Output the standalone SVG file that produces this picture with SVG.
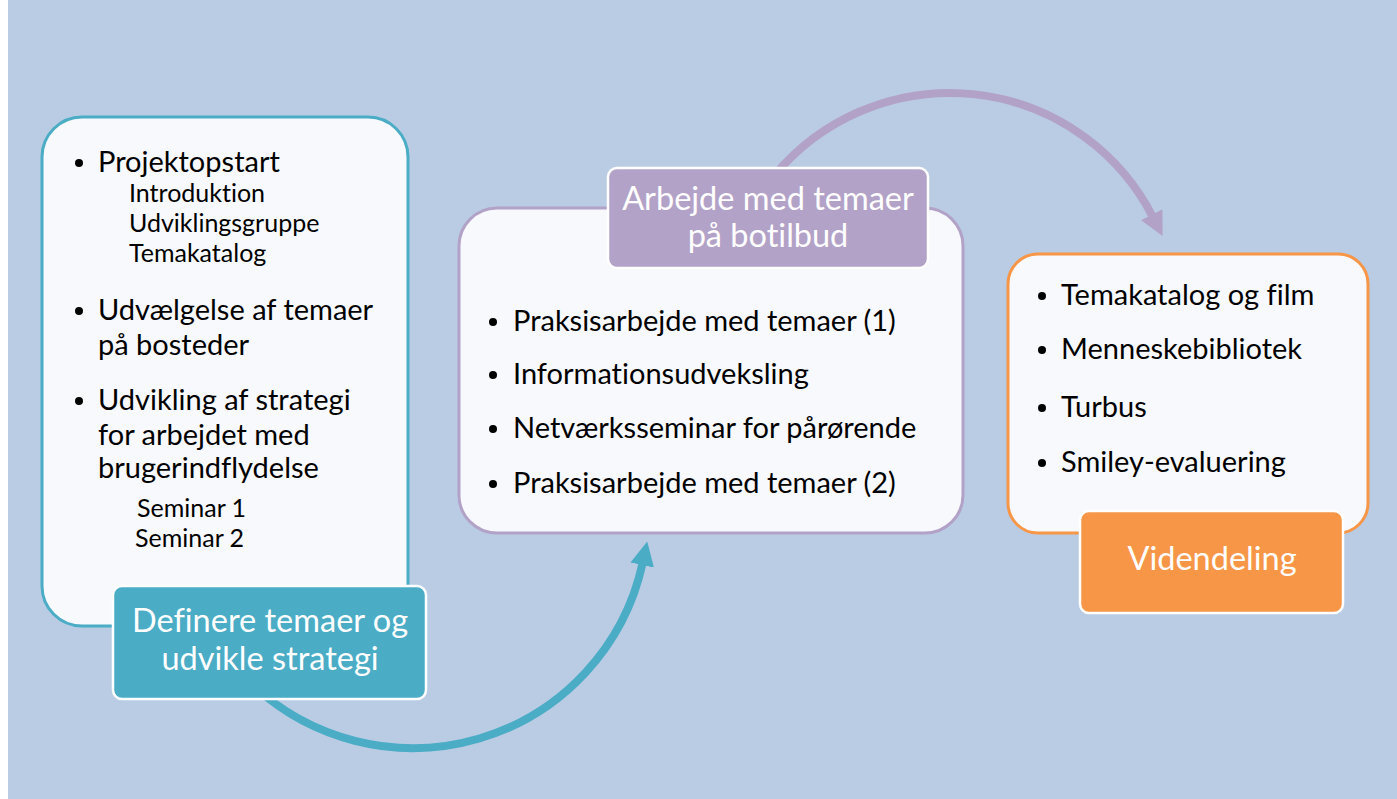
<svg xmlns="http://www.w3.org/2000/svg" width="1397" height="799" viewBox="0 0 1397 799">
<style>
.box{fill:#f7f9fc;stroke-width:3}
.lab{stroke:#ffffff;stroke-width:2.5}
text{font-variant-ligatures:none;font-feature-settings:"liga" 0}
.t{font-family:Lato,"Open Sans","Liberation Sans",sans-serif;fill:#000000}
.big{font-size:29px}
.small{font-size:25px}
.lt{font-family:Lato,"Open Sans","Liberation Sans",sans-serif;fill:#ffffff;font-size:32.5px;text-anchor:middle}
.b{fill:#000000}
</style>
<defs>
<marker id="ahT" markerUnits="userSpaceOnUse" markerWidth="24" markerHeight="24" viewBox="0 0 20 20" refX="2" refY="10" orient="auto"><path d="M0,0 L20,10 L0,20 z" fill="#4bacc6"/></marker>
<marker id="ahP" markerUnits="userSpaceOnUse" markerWidth="24" markerHeight="24" viewBox="0 0 20 20" refX="2" refY="10" orient="auto"><path d="M0,0 L20,10 L0,20 z" fill="#b3a2c7"/></marker>
</defs>
<rect x="0" y="0" width="1397" height="799" fill="#ffffff"/>
<rect x="8" y="0" width="1389" height="799" fill="#b9cce4"/>
<g id="connectors" fill="none" stroke-width="8">
<path d="M246.8,679.2 A235,235 0 0 0 642.7,562.7" stroke="#4bacc6" marker-end="url(#ahT)"/>
<path d="M775.3,174.4 A228,228 0 0 1 1152.8,216.8" stroke="#b3a2c7" marker-end="url(#ahP)"/>
</g>
<g id="node1">
<rect class="box" x="42" y="117" width="366" height="509" rx="40" stroke="#4bacc6"/>
<circle class="b" cx="79" cy="163" r="4"/>
<text class="t big" x="98" y="172">Projektopstart</text>
<text class="t small" x="129" y="202">Introduktion</text>
<text class="t small" x="129" y="232">Udviklingsgruppe</text>
<text class="t small" x="129" y="262">Temakatalog</text>
<circle class="b" cx="79" cy="311" r="4"/>
<text class="t big" x="98" y="320">Udvælgelse af temaer</text>
<text class="t big" x="98" y="355">på bosteder</text>
<circle class="b" cx="79" cy="401" r="4"/>
<text class="t big" x="98" y="410">Udvikling af strategi</text>
<text class="t big" x="98" y="445">for arbejdet med</text>
<text class="t big" x="98" y="478">brugerindflydelse</text>
<text class="t small" x="137" y="517">Seminar 1</text>
<text class="t small" x="135" y="547">Seminar 2</text>
</g>
<g id="label1">
<rect class="lab" x="113" y="586" width="313" height="113" rx="9" fill="#4bacc6"/>
<text class="lt" x="270" y="632">Definere temaer og</text>
<text class="lt" x="270" y="670">udvikle strategi</text>
</g>
<g id="node2">
<rect class="box" x="459" y="208" width="504" height="325" rx="38" stroke="#b3a2c7"/>
<circle class="b" cx="493" cy="322" r="4"/>
<text class="t big" x="513" y="331">Praksisarbejde med temaer (1)</text>
<circle class="b" cx="493" cy="375" r="4"/>
<text class="t big" x="513" y="384">Informationsudveksling</text>
<circle class="b" cx="493" cy="429" r="4"/>
<text class="t big" x="513" y="438">Netværksseminar for pårørende</text>
<circle class="b" cx="493" cy="484" r="4"/>
<text class="t big" x="513" y="493">Praksisarbejde med temaer (2)</text>
</g>
<g id="label2">
<rect class="lab" x="608" y="168" width="320" height="100" rx="9" fill="#b3a2c7"/>
<text class="lt" x="768" y="210">Arbejde med temaer</text>
<text class="lt" x="768" y="247">på botilbud</text>
</g>
<g id="node3">
<rect class="box" x="1008" y="254" width="360" height="279" rx="30" stroke="#f79646"/>
<circle class="b" cx="1042" cy="296" r="4"/>
<text class="t big" x="1061" y="305">Temakatalog og film</text>
<circle class="b" cx="1042" cy="350" r="4"/>
<text class="t big" x="1061" y="359">Menneskebibliotek</text>
<circle class="b" cx="1042" cy="408" r="4"/>
<text class="t big" x="1061" y="417">Turbus</text>
<circle class="b" cx="1042" cy="463" r="4"/>
<text class="t big" x="1061" y="472">Smiley-evaluering</text>
</g>
<g id="label3">
<rect class="lab" x="1080" y="511" width="263" height="102" rx="9" fill="#f79646"/>
<text class="lt" x="1212" y="570">Videndeling</text>
</g>
</svg>
